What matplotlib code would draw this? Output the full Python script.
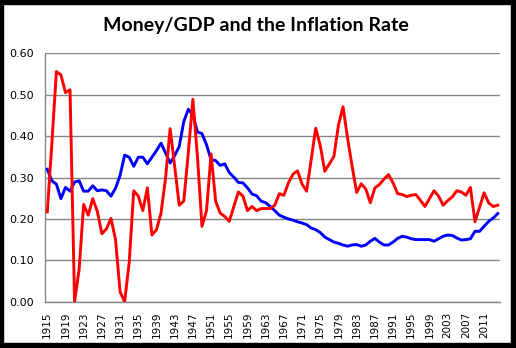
import matplotlib
matplotlib.use("Agg")
import matplotlib.pyplot as plt
from matplotlib.patches import Rectangle

years = list(range(1915, 2015))

money_gdp = [
    0.320, 0.292, 0.284, 0.249, 0.276, 0.267, 0.289, 0.292, 0.267, 0.267,  # 1915-1924
    0.280, 0.268, 0.270, 0.268, 0.255, 0.274, 0.305, 0.354, 0.349, 0.327,  # 1925-1934
    0.349, 0.349, 0.333, 0.349, 0.365, 0.383, 0.359, 0.335, 0.353, 0.375,  # 1935-1944
    0.435, 0.465, 0.451, 0.410, 0.406, 0.379, 0.343, 0.341, 0.329, 0.333,  # 1945-1954
    0.312, 0.301, 0.288, 0.287, 0.275, 0.260, 0.256, 0.243, 0.239, 0.230,  # 1955-1964
    0.220, 0.209, 0.204, 0.200, 0.197, 0.193, 0.190, 0.186, 0.178, 0.174,  # 1965-1974
    0.167, 0.156, 0.150, 0.144, 0.141, 0.137, 0.134, 0.137, 0.138, 0.134,  # 1975-1984
    0.137, 0.146, 0.153, 0.144, 0.137, 0.137, 0.144, 0.153, 0.158, 0.156,  # 1985-1994
    0.152, 0.150, 0.150, 0.150, 0.150, 0.146, 0.152, 0.158, 0.161, 0.160,  # 1995-2004
    0.154, 0.149, 0.150, 0.152, 0.170, 0.170, 0.182, 0.194, 0.202, 0.213,  # 2005-2014
]

inflation = [
    0.217, 0.380, 0.556, 0.548, 0.505, 0.512, 0.000, 0.078, 0.235, 0.209,  # 1915-1924
    0.249, 0.218, 0.164, 0.176, 0.201, 0.150, 0.024, 0.000, 0.094, 0.268,  # 1925-1934
    0.255, 0.220, 0.275, 0.161, 0.174, 0.214, 0.299, 0.418, 0.327, 0.233,  # 1935-1944
    0.243, 0.360, 0.489, 0.351, 0.182, 0.220, 0.357, 0.243, 0.214, 0.206,  # 1945-1954
    0.194, 0.230, 0.265, 0.255, 0.220, 0.230, 0.220, 0.225, 0.225, 0.225,  # 1955-1964
    0.233, 0.261, 0.257, 0.287, 0.308, 0.316, 0.284, 0.267, 0.343, 0.419,  # 1965-1974
    0.377, 0.315, 0.333, 0.351, 0.427, 0.471, 0.395, 0.327, 0.264, 0.285,  # 1975-1984
    0.272, 0.239, 0.275, 0.283, 0.296, 0.307, 0.287, 0.261, 0.259, 0.254,  # 1985-1994
    0.257, 0.259, 0.245, 0.230, 0.249, 0.268, 0.255, 0.233, 0.244, 0.253,  # 1995-2004
    0.268, 0.265, 0.257, 0.276, 0.193, 0.228, 0.263, 0.239, 0.230, 0.233,  # 2005-2014
]

y_ticks = [0.0, 0.1, 0.2, 0.3, 0.4, 0.5, 0.6]

W, H = 516, 348
fig = plt.figure(figsize=(W / 100, H / 100), dpi=100)
ax = fig.add_axes([45 / W, 1 - 301.7 / H, 455 / W, (301.7 - 53.3) / H])

ax.plot(years, money_gdp, color="#0000FF", lw=2.1, zorder=3)
ax.plot(years, inflation, color="#FF0000", lw=2.1, zorder=4)

ax.set_xlim(1914.5, 2014.5)
ax.set_ylim(0, 0.6)
ax.set_yticks(y_ticks)
ax.set_yticklabels([f"{v:.2f}" for v in y_ticks], fontsize=8)
ax.set_xticks(years[::4])
ax.set_xticklabels([str(y) for y in years[::4]], rotation=90, fontsize=7.5)
ax.tick_params(length=0)
ax.tick_params(axis="x", pad=7)
ax.tick_params(axis="y", pad=8)

ax.grid(axis="y", color="#868686", lw=1)
ax.set_axisbelow(True)
for side in ["top", "right"]:
    ax.spines[side].set_visible(False)
for side in ["left", "bottom"]:
    ax.spines[side].set_color("#868686")
    ax.spines[side].set_linewidth(1)

fig.text(256 / W, 1 - 25 / H, "Money/GDP and the Inflation Rate",
         ha="center", va="center", fontsize=14, fontweight="bold", family="Lato")

# black frame round the chart (thicker on right and bottom)
for x0, y0, w, h in [(0, 0, 3, H), (0, 0, W, 4), (W - 5, 0, 5, H), (0, H - 5, W, 5)]:
    fig.patches.append(Rectangle((x0 / W, 1 - (y0 + h) / H), w / W, h / H,
                                 transform=fig.transFigure, color="black", zorder=10))

fig.savefig("out.png", dpi=100)
